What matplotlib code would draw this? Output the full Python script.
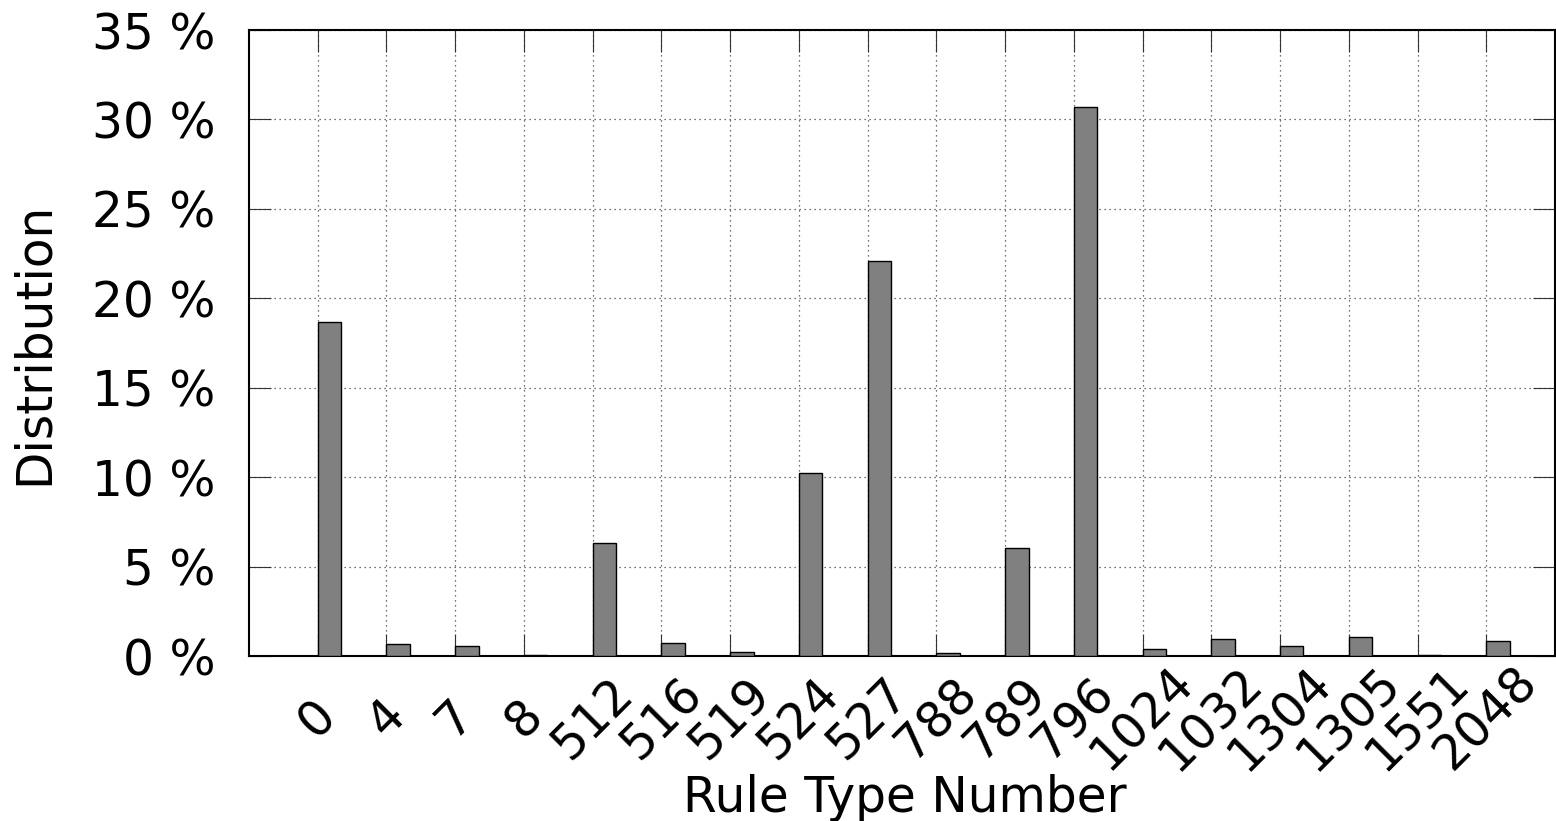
import numpy as np
import matplotlib
matplotlib.use('Agg')
import matplotlib.pyplot as plt

rule_types = ['0', '4', '7', '8', '512', '516', '519', '524', '527', '788',
              '789', '796', '1024', '1032', '1304', '1305', '1551', '2048']
share_pct = [18.67, 0.67, 0.57, 0.05, 6.32, 0.73, 0.21, 10.23, 22.08, 0.17,
             6.04, 30.69, 0.38, 0.94, 0.55, 1.05, 0.04, 0.83]
y_ticks = [0, 5, 10, 15, 20, 25, 30, 35]

plt.rcParams['font.family'] = ['DejaVu Sans']
fig = plt.figure(figsize=(15.56, 8.21), dpi=100)
ax = fig.add_axes([249 / 1556, 1 - 656 / 821, 1 - 249 / 1556 - 0.0006, (656 - 30) / 821])

x = np.arange(len(rule_types))
ax.bar(x, share_pct, width=0.34, align='edge', color='#808080',
       edgecolor='black', linewidth=1.0, zorder=3)

ax.set_xlim(-1, len(rule_types))
ax.set_ylim(0, 35)
ax.set_yticks(y_ticks)
ax.set_yticklabels([f'{v} %' for v in y_ticks])
ax.set_xticks(x)
ax.set_xticklabels(rule_types, rotation=45, ha='center', va='center')

ax.tick_params(axis='both', direction='in', length=16, width=0.8,
               labelsize=35, top=True, right=True, color='#333333')
ax.tick_params(axis='y', pad=24)
ax.tick_params(axis='x', pad=45)

ax.grid(True, linestyle=(0, (1, 3)), color='#444444', linewidth=0.9, zorder=0)
for s in ax.spines.values():
    s.set_linewidth(1.5)

fig.text(34 / 1556, 1 - 343 / 821, 'Distribution', rotation=90,
         ha='center', va='center', fontsize=35)
fig.text(905 / 1556, 1 - 812 / 821, 'Rule Type Number',
         ha='center', va='baseline', fontsize=35)

fig.savefig('out.png', dpi=100)
